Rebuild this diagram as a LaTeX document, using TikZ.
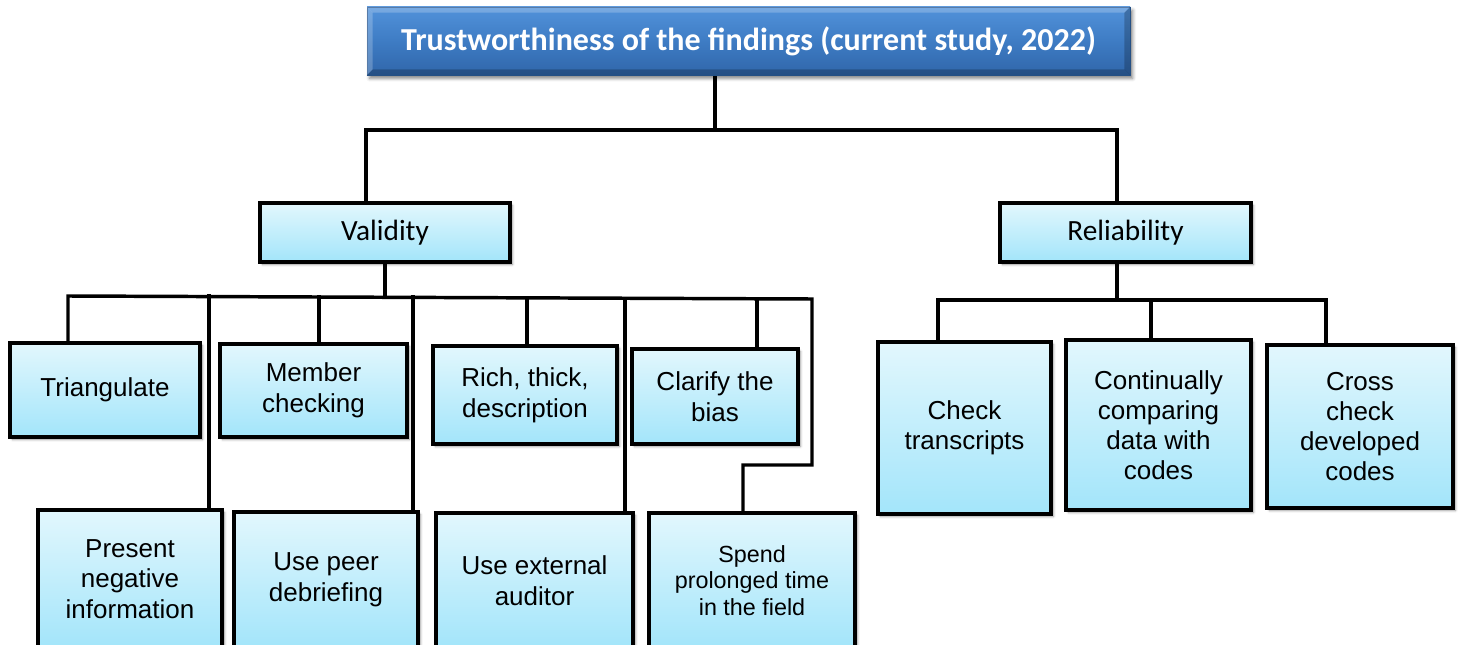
\documentclass[tikz,border=0pt]{standalone}
\usepackage{fontspec}
\setmainfont{Liberation Sans}
\newfontfamily\calibri{Carlito}
\usetikzlibrary{shadows.blur,calc}

\definecolor{leaftop}{RGB}{226,247,253}
\definecolor{leafbot}{RGB}{163,229,250}
\definecolor{headtop}{RGB}{82,146,218}
\definecolor{headmid}{RGB}{62,124,196}
\definecolor{headbot}{RGB}{48,102,170}

\pgfdeclarelayer{background}
\pgfsetlayers{background,main}

\tikzset{
  conn/.style={line width=2.6pt, line join=miter, line cap=rect, black},
  boxbase/.style={draw=black, line width=2.6pt, inner sep=0pt, align=center,
    top color=leaftop, bottom color=leafbot,
    blur shadow={shadow xshift=1.8pt, shadow yshift=-1.8pt, shadow blur radius=1.8pt, shadow opacity=45}},
  leaf/.style={boxbase, font=\fontsize{19.5}{23}\selectfont},
  smallleaf/.style={boxbase, font=\fontsize{17.5}{20}\selectfont},
  relleaf/.style={boxbase, font=\fontsize{19.5}{22.5}\selectfont},
  midbox/.style={boxbase, font=\calibri\fontsize{22}{26}\selectfont},
  headbox/.style={inner sep=0pt, text=white, draw=headbot!85!black, line width=0.5pt,
    top color=headtop, bottom color=headbot, middle color=headmid,
    font=\calibri\bfseries\fontsize{24}{28}\selectfont,
    blur shadow={shadow xshift=2pt, shadow yshift=-2.5pt, shadow blur radius=2.5pt, shadow opacity=50}},
  bevellight/.style={fill=white, fill opacity=0.22},
  beveldark/.style={fill=black, fill opacity=0.22}
}

% box from corner (x1,y1) to corner (x2,y2), in pixel units
\newcommand\placebox[6]{\node[#1, minimum width={(#5-#3)*0.75pt}, minimum height={(#6-#4)*0.75pt}] (#2) at ({(#3+#5)/2},{(#4+#6)/2})}

\begin{document}
\begin{tikzpicture}[x=0.75pt, y=-0.75pt]
\useasboundingbox (0,0) rectangle (1460,645);
\clip (0,0) rectangle (1460,645);

% joints of the connector tree
\coordinate (tj) at (715,130);
\coordinate (vl) at (366,130);
\coordinate (rl) at (1117,130);
\coordinate (b1) at (68,296);
\coordinate (b2) at (209,296);
\coordinate (b3) at (319,297);
\coordinate (b4) at (413,297);
\coordinate (b5) at (527,298);
\coordinate (b6) at (625,298);
\coordinate (b7) at (757,299);
\coordinate (b8) at (812,299);
\coordinate (sk) at (743,465);
\coordinate (c1) at (938,300);
\coordinate (c2) at (1151,300);
\coordinate (c3) at (1326,300);

% heading with bevelled edges
\placebox{headbox}{title}{367}{7}{1130}{75} {};
\path[bevellight] (title.north west) -- (title.north east) -- ($(title.north east)+(-6,6)$) -- ($(title.north west)+(6,6)$) -- cycle;
\path[bevellight] (title.north west) -- ($(title.north west)+(6,6)$) -- ($(title.south west)+(6,-6)$) -- (title.south west) -- cycle;
\path[beveldark] (title.north east) -- ($(title.north east)+(-6,6)$) -- ($(title.south east)+(-6,-6)$) -- (title.south east) -- cycle;
\path[beveldark] (title.south west) -- ($(title.south west)+(6,-6)$) -- ($(title.south east)+(-6,-6)$) -- (title.south east) -- cycle;
\node[text=white, font=\calibri\bfseries\fontsize{24}{28}\selectfont, inner sep=0pt] (titletext) at (title.center) {Trustworthiness of the findings (current study, 2022)};

% boxes
\placebox{midbox}{val}{260}{203}{510}{262} {Validity};
\placebox{midbox}{rel}{1000}{203}{1251}{262} {Reliability};

\placebox{leaf}{tri}{10}{343}{200}{437} {Triangulate};
\placebox{leaf}{mem}{220}{344}{407}{437} {Member\\checking};
\placebox{leaf}{rich}{433}{346}{617}{444} {Rich, thick,\\description};
\placebox{leaf}{clar}{632}{349}{798}{444} {Clarify the\\bias};

\placebox{leaf}{pni}{38}{510}{222}{648} {Present\\negative\\information};
\placebox{leaf}{peer}{234}{512}{418}{648} {Use peer\\debriefing};
\placebox{leaf}{ext}{436}{513}{633}{648} {Use external\\auditor};
\placebox{smallleaf}{spend}{649}{513}{855}{648} {Spend\\prolonged time\\in the field};

\placebox{relleaf}{chk}{878}{342}{1051}{514} {Check\\transcripts};
\placebox{relleaf}{cmp}{1066}{340}{1251}{510} {Continually\\comparing\\data with\\codes};
\placebox{relleaf}{crs}{1267}{345}{1453}{508} {Cross\\check\\developed\\codes};

% connectors, behind the boxes
\begin{pgfonlayer}{background}
  \draw[conn] (title.south -| tj) -- (tj);
  \draw[conn] (val.north -| vl) -- (vl) -- (rl) -- (rel.north -| rl);

  % validity branches
  \draw[conn] (val.south) -- (val.south |- b1);
  \draw[conn] (b1 |- tri.north) -- (b1) -- (b8) |- (sk) -- (sk |- spend.north);
  \draw[conn] (b2) -- (b2 |- pni.north);
  \draw[conn] (b3) -- (b3 |- mem.north);
  \draw[conn] (b4) -- (b4 |- peer.north);
  \draw[conn] (b5) -- (b5 |- rich.north);
  \draw[conn] ([yshift=-2pt]b6) -- (b6 |- ext.north);
  \draw[conn] (b7) -- (b7 |- clar.north);

  % reliability branches
  \draw[conn] (rel.south -| rl) -- (rl |- c1);
  \draw[conn] (c1 |- chk.north) -- (c1) -- (c3) -- (c3 |- crs.north);
  \draw[conn] (c2) -- (c2 |- cmp.north);
\end{pgfonlayer}
\end{tikzpicture}
\end{document}
